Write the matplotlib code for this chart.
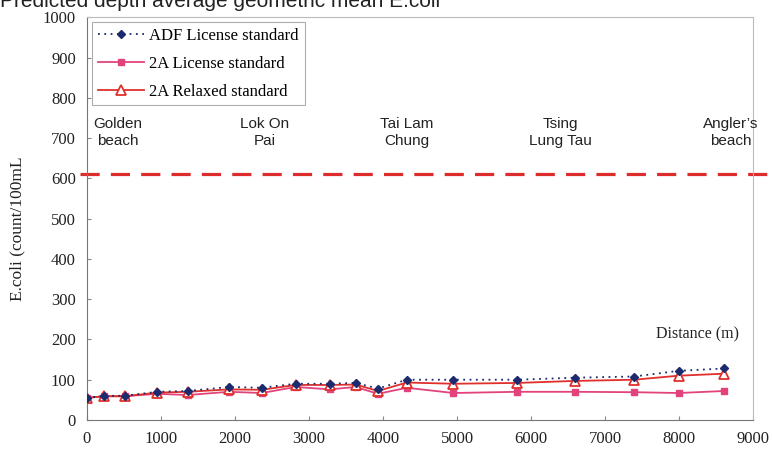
import matplotlib.pyplot as plt
import numpy as np

# distance along the coast (m) and predicted E.coli for each standard
distance = [0, 230, 510, 950, 1360, 1920, 2360, 2820, 3280, 3630, 3930,
            4320, 4950, 5810, 6590, 7390, 7990, 8610]
adf_license = [55, 60, 60, 70, 72, 82, 80, 90, 90, 92, 78, 100, 100, 100,
               105, 108, 122, 128]
a2_license = [55, 59, 59, 65, 62, 70, 67, 82, 76, 82, 65, 80, 67, 70, 70,
              69, 67, 72]
a2_relaxed = [55, 59, 59, 68, 70, 76, 75, 87, 87, 88, 72, 93, 90, 92, 97,
              100, 110, 115]

beaches = ["Golden\nbeach", "Lok On\nPai", "Tai Lam\nChung", "Tsing\nLung Tau",
           "Angler\u2019s\nbeach"]
beach_x = [420, 2400, 4320, 6390, 8690]
limit = 610

serif = ["Liberation Serif", "DejaVu Serif"]
sans = ["Liberation Sans", "DejaVu Sans"]

fig = plt.figure(figsize=(7.73, 4.57), dpi=100)
ax = fig.add_axes([0.1125, 0.081, 0.862, 0.881])

ax.plot(distance, adf_license, color="#1c2a6e", ls=(0, (1, 2.5)), lw=1.3,
        marker="D", ms=4, label="ADF License standard", zorder=4)
ax.plot(distance, a2_license, color="#e2437c", lw=1.3, marker="s", ms=5,
        label="2A License standard", zorder=3)
ax.plot(distance, a2_relaxed, color="#e0302c", lw=1.3, marker="^", ms=7,
        mfc="white", mew=1.3, label="2A Relaxed standard", zorder=3)

# regulatory limit, running slightly past the frame on both sides
ax.hlines(limit, -100, 9350, colors="#dd2c2c", lw=2.3,
          linestyles=(0, (6, 3.5)), clip_on=False, zorder=2)

for x, name in zip(beach_x, beaches):
    ax.text(x, 714, name, ha="center", va="center", fontsize=11,
            family=sans, color="#222222", linespacing=1.2)

ax.text(8810, 212, "Distance (m)", ha="right", va="center", fontsize=11.5,
        family=serif, color="#222222")

ax.set_xlim(0, 9000)
ax.set_ylim(0, 1000)
ax.set_xticks(np.arange(0, 9001, 1000))
ax.set_yticks(np.arange(0, 1001, 100))
ax.tick_params(direction="in", length=3, color="#888888", labelsize=12,
               labelcolor="#222222", pad=8)
for lab in ax.get_xticklabels() + ax.get_yticklabels():
    lab.set_family(serif)

for side in ["left", "bottom"]:
    ax.spines[side].set_color("#777777")
for side in ["top", "right"]:
    ax.spines[side].set_color("#bbbbbb")

fig.text(0.022, 0.50, "E.coli (count/100mL", rotation=90, ha="center",
         va="center", fontsize=12.5, family=serif, color="#222222")

leg = ax.legend(loc="upper left", bbox_to_anchor=(0.0, 1.0),
                prop={"family": serif, "size": 12}, frameon=True,
                fancybox=False, borderpad=0.35, labelspacing=0.7,
                handlelength=2.8, handletextpad=0.3, borderaxespad=0.3)
leg.get_frame().set_edgecolor("#999999")
leg.get_frame().set_linewidth(0.8)

fig.text(0.0, 0.985, "Predicted depth average geometric mean E.coli",
         ha="left", va="baseline", fontsize=15, family=sans, color="#222222")

fig.savefig("out.png", dpi=100)
